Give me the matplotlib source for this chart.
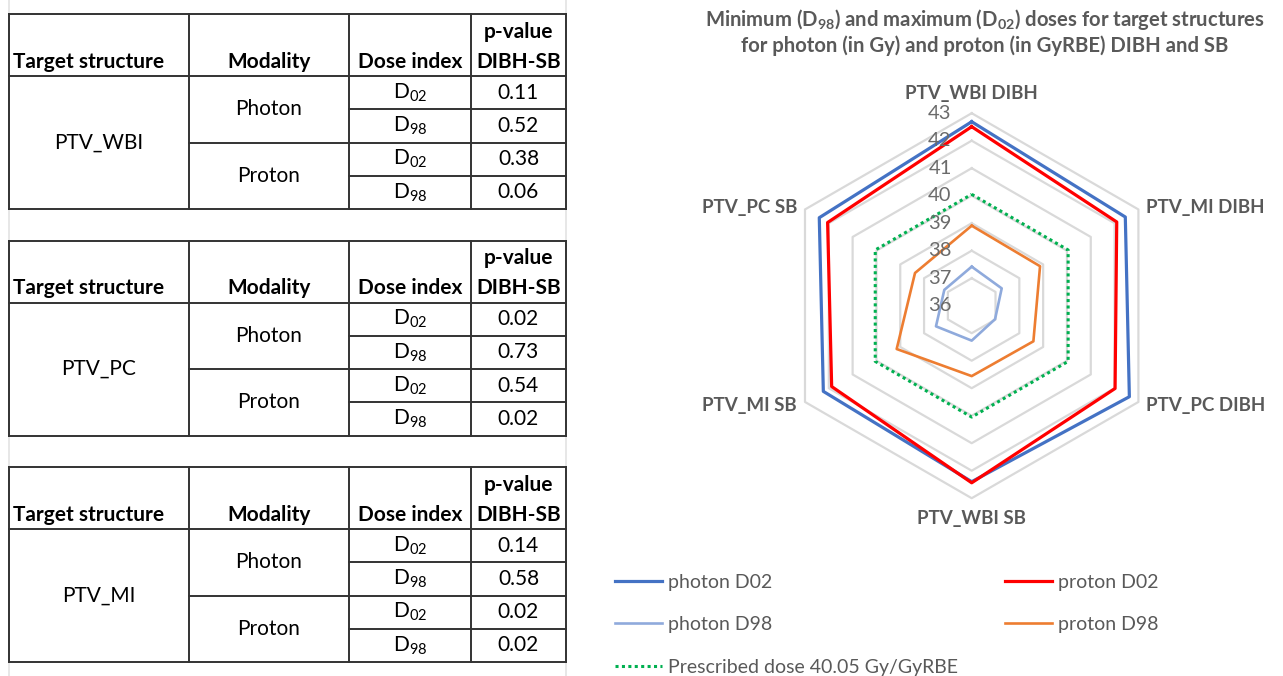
import numpy as np
import matplotlib.pyplot as plt

plt.rcParams['font.family'] = ['Lato', 'DejaVu Sans']
plt.rcParams['mathtext.fontset'] = 'custom'
plt.rcParams['mathtext.rm'] = 'Lato'
plt.rcParams['mathtext.it'] = 'Lato:italic'
plt.rcParams['mathtext.bf'] = 'Lato:bold'

# ---- table data ----
structures = ['PTV_WBI', 'PTV_PC', 'PTV_MI']
modalities = ['Photon', 'Proton']
dose_index = ['D$_{02}$', 'D$_{98}$']
p_wbi = ['0.11', '0.52', '0.38', '0.06']
p_pc = ['0.02', '0.73', '0.54', '0.02']
p_mi = ['0.14', '0.58', '0.02', '0.02']
header = ['Target structure', 'Modality', 'Dose index', 'p-value\nDIBH-SB']

# ---- radar data (Gy / GyRBE) ----
categories = ['PTV_WBI DIBH', 'PTV_MI DIBH', 'PTV_PC DIBH',
              'PTV_WBI SB', 'PTV_MI SB', 'PTV_PC SB']
photon_d02 = [42.69, 42.45, 42.62, 42.40, 42.23, 42.40]
proton_d02 = [42.51, 42.09, 42.02, 42.44, 41.88, 42.05]
photon_d98 = [37.42, 37.26, 36.98, 37.27, 37.50, 37.15]
proton_d98 = [38.91, 38.87, 38.59, 38.56, 39.15, 38.38]
prescribed = 40.05
rings = [36, 37, 38, 39, 40, 41, 42, 43]

W, H = 1283, 676
fig = plt.figure(figsize=(W / 100, H / 100), dpi=100)

# background axes in pixel coordinates, used for tables, title, legend
bg = fig.add_axes([0, 0, 1, 1])
bg.set_xlim(0, W)
bg.set_ylim(H, 0)
bg.axis('off')

line_kw = dict(color='#333333', lw=1.4, solid_capstyle='projecting')
col_x = [9, 189, 349, 471, 566]
head_h = 62
row_h = 33.25
fs = 15

# faint page border lines
for x in (col_x[0], col_x[-1]):
    bg.plot([x, x], [0, H], color='#e3e3e3', lw=1.2)


def draw_table(top, name, pvals):
    bottom = top + head_h + 4 * row_h
    bg.plot([col_x[0], col_x[-1]], [top, top], **line_kw)
    bg.plot([col_x[0], col_x[-1]], [bottom, bottom], **line_kw)
    bg.plot([col_x[0], col_x[-1]], [top + head_h] * 2, **line_kw)
    for x in col_x:
        bg.plot([x, x], [top, bottom], **line_kw)
    bg.plot([col_x[1], col_x[-1]], [top + head_h + 2 * row_h] * 2, **line_kw)
    for k in (1, 3):
        bg.plot([col_x[2], col_x[-1]], [top + head_h + k * row_h] * 2, **line_kw)

    hy = top + 48
    bg.text(col_x[0] + 4, hy, header[0], ha='left', va='center',
            fontsize=fs, fontweight='bold')
    bg.text((col_x[1] + col_x[2]) / 2, hy, header[1], ha='center', va='center',
            fontsize=fs, fontweight='bold')
    bg.text((col_x[2] + col_x[3]) / 2, hy, header[2], ha='center', va='center',
            fontsize=fs, fontweight='bold')
    l1, l2 = header[3].split('\n')
    bg.text((col_x[3] + col_x[4]) / 2, top + 18, l1, ha='center', va='center',
            fontsize=fs, fontweight='bold')
    bg.text((col_x[3] + col_x[4]) / 2, hy, l2, ha='center', va='center',
            fontsize=fs, fontweight='bold')

    body = top + head_h
    bg.text((col_x[0] + col_x[1]) / 2, body + 2 * row_h, name,
            ha='center', va='center', fontsize=fs)
    for m, mod in enumerate(modalities):
        bg.text((col_x[1] + col_x[2]) / 2, body + (2 * m + 1) * row_h, mod,
                ha='center', va='center', fontsize=fs)
    for r in range(4):
        yc = body + (r + 0.5) * row_h
        bg.text((col_x[2] + col_x[3]) / 2, yc, dose_index[r % 2],
                ha='center', va='center', fontsize=fs)
        bg.text((col_x[3] + col_x[4]) / 2, yc, pvals[r],
                ha='center', va='center', fontsize=fs)


for top, name, pv in zip([14, 240.5, 467], structures, [p_wbi, p_pc, p_mi]):
    draw_table(top, name, pv)

# ---- radar chart ----
cx, cy, R = 971.7, 305.7, 192.5
ax = fig.add_axes([(cx - R) / W, (H - cy - R) / H, 2 * R / W, 2 * R / H],
                  projection='polar')
ax.set_theta_offset(np.pi / 2)
ax.set_theta_direction(-1)
ax.set_ylim(36, 43)
ax.grid(False)
ax.spines['polar'].set_visible(False)
ax.set_xticks([])
ax.set_yticks([])
ax.patch.set_alpha(0)

theta = np.linspace(0, 2 * np.pi, len(categories), endpoint=False)
closed = np.append(theta, theta[0])


def close(v):
    return np.append(v, v[0])


gray = '#595959'
for r in rings[1:]:
    ax.plot(closed, [r] * len(closed), color='#d9d9d9', lw=1.6, clip_on=False, zorder=1)
for r in rings:
    ax.annotate(str(r), xy=(0, r), xytext=(-20, 0), textcoords='offset pixels',
                ha='right', va='center', fontsize=14.5, color='#6b6b6b',
                annotation_clip=False, zorder=5)

series = [
    (photon_d02, 'photon D02', '#4472C4', 2.3, '-'),
    (proton_d02, 'proton D02', '#FF0000', 2.3, '-'),
    (photon_d98, 'photon D98', '#8FAADC', 1.9, '-'),
    (proton_d98, 'proton D98', '#ED7D31', 1.9, '-'),
]
handles = {}
for vals, lab, col, lw, ls in series:
    h, = ax.plot(closed, close(vals), color=col, lw=lw, ls=ls, label=lab,
                 clip_on=False, zorder=3)
    handles[lab] = h
h, = ax.plot(closed, [prescribed] * len(closed), color='#00B050', lw=2.2,
             ls=(0, (1, 1.1)), label='Prescribed dose 40.05 Gy/GyRBE',
             clip_on=False, zorder=3)
handles['Prescribed'] = h

offsets = [(0, 20, 'center'), (8, 2, 'left'), (8, -4, 'left'),
           (0, -20, 'center'), (-8, -4, 'right'), (-8, 2, 'right')]
for t, lab, (dx, dy, ha) in zip(theta, categories, offsets):
    ax.annotate(lab, xy=(t, 43), xytext=(dx, dy), textcoords='offset pixels',
                ha=ha, va='center', fontsize=13.5, fontweight='bold', color=gray,
                annotation_clip=False)

# title
bg.text(985, 20, 'Minimum (D$_\\mathbf{98}$) and maximum (D$_\\mathbf{02}$) doses for target structures',
        ha='center', va='center', fontsize=14.6, fontweight='bold', color=gray)
bg.text(985, 46, 'for photon (in Gy) and proton (in GyRBE) DIBH and SB',
        ha='center', va='center', fontsize=14.6, fontweight='bold', color=gray)

# legend, two columns
leg_kw = dict(loc='upper left', frameon=False, fontsize=14, labelcolor=gray,
              handlelength=2.4, handletextpad=0.3, labelspacing=1.3,
              borderpad=0, borderaxespad=0, bbox_transform=bg.transData)
leg1 = bg.legend([handles['photon D02'], handles['photon D98'], handles['Prescribed']],
                 ['photon D02', 'photon D98', 'Prescribed dose 40.05 Gy/GyRBE'],
                 bbox_to_anchor=(615, 574), **leg_kw)
bg.add_artist(leg1)
bg.legend([handles['proton D02'], handles['proton D98']],
          ['proton D02', 'proton D98'], bbox_to_anchor=(1005, 574), **leg_kw)

fig.savefig('out.png', dpi=100)
